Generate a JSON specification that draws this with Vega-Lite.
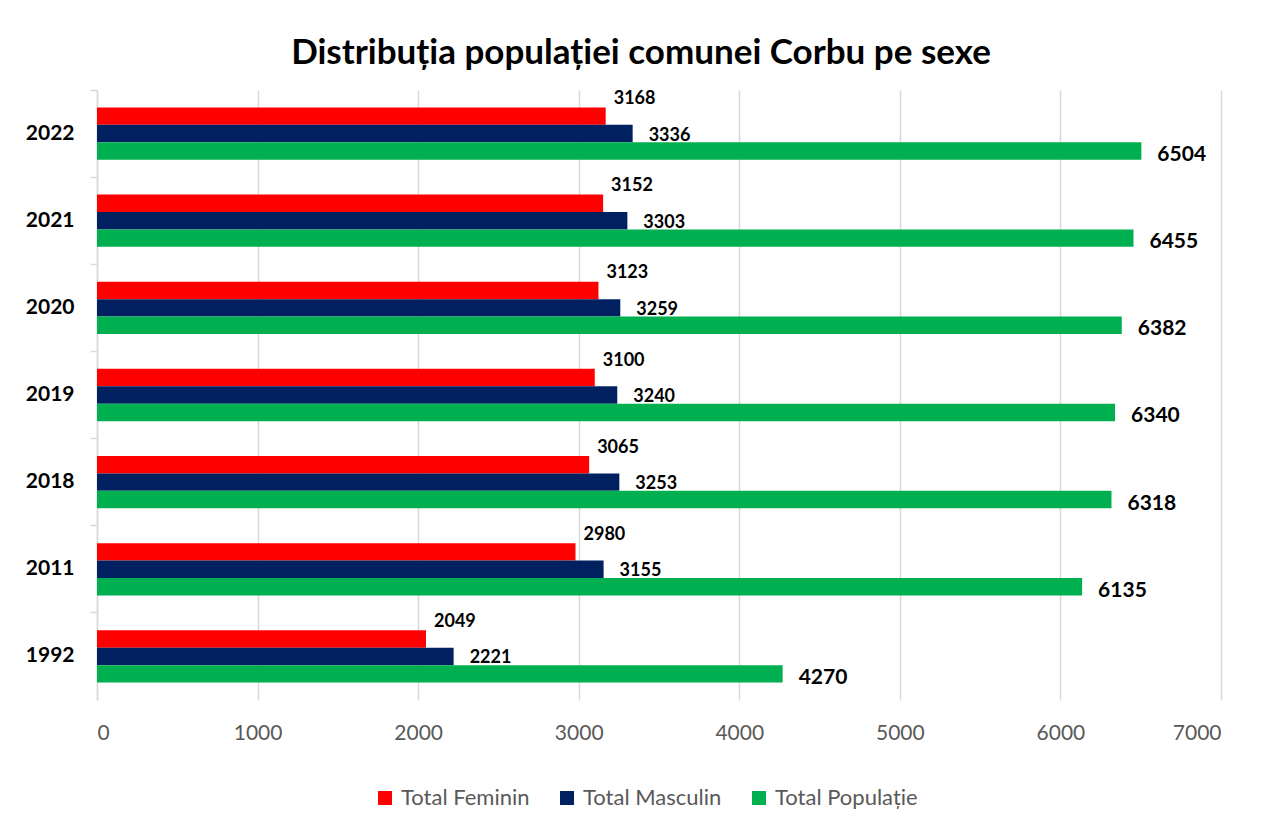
{
  "$schema": "https://vega.github.io/schema/vega-lite/v6.json",
  "width": 1124,
  "height": 610,
  "autosize": {"type": "none"},
  "padding": {"left": 97, "top": 90, "right": 46, "bottom": 129},
  "background": "white",
  "title": {
    "text": "Distribuția populației comunei Corbu pe sexe",
    "font": "Lato",
    "fontSize": 35,
    "fontWeight": "bold",
    "color": "#000000",
    "anchor": "middle",
    "dx": -18,
    "offset": 18
  },
  "data": {
    "values": [
      {"year": "2022", "series": "Total Feminin", "value": 3168},
      {"year": "2022", "series": "Total Masculin", "value": 3336},
      {"year": "2022", "series": "Total Populație", "value": 6504},
      {"year": "2021", "series": "Total Feminin", "value": 3152},
      {"year": "2021", "series": "Total Masculin", "value": 3303},
      {"year": "2021", "series": "Total Populație", "value": 6455},
      {"year": "2020", "series": "Total Feminin", "value": 3123},
      {"year": "2020", "series": "Total Masculin", "value": 3259},
      {"year": "2020", "series": "Total Populație", "value": 6382},
      {"year": "2019", "series": "Total Feminin", "value": 3100},
      {"year": "2019", "series": "Total Masculin", "value": 3240},
      {"year": "2019", "series": "Total Populație", "value": 6340},
      {"year": "2018", "series": "Total Feminin", "value": 3065},
      {"year": "2018", "series": "Total Masculin", "value": 3253},
      {"year": "2018", "series": "Total Populație", "value": 6318},
      {"year": "2011", "series": "Total Feminin", "value": 2980},
      {"year": "2011", "series": "Total Masculin", "value": 3155},
      {"year": "2011", "series": "Total Populație", "value": 6135},
      {"year": "1992", "series": "Total Feminin", "value": 2049},
      {"year": "1992", "series": "Total Masculin", "value": 2221},
      {"year": "1992", "series": "Total Populație", "value": 4270}
    ]
  },
  "encoding": {
    "y": {
      "field": "year",
      "type": "nominal",
      "sort": "descending",
      "title": null,
      "scale": {"paddingInner": 0, "paddingOuter": 0},
      "axis": {
        "bandPosition": 0,
        "domainColor": "#d9d9d9",
        "domainWidth": 1.5,
        "tickColor": "#d9d9d9",
        "tickWidth": 1.5,
        "tickSize": 7,
        "labelFont": "Lato",
        "labelFontSize": 21,
        "labelFontWeight": "bold",
        "labelColor": "#000000",
        "labelPadding": 16,
        "grid": false
      }
    },
    "yOffset": {
      "field": "series",
      "type": "nominal",
      "sort": ["Total Feminin", "Total Masculin", "Total Populație"],
      "scale": {"paddingInner": 0, "paddingOuter": 1.06}
    },
    "x": {
      "field": "value",
      "type": "quantitative",
      "title": null,
      "scale": {"domain": [0, 7000], "nice": false},
      "axis": {
        "values": [0, 1000, 2000, 3000, 4000, 5000, 6000, 7000],
        "format": "d",
        "domain": false,
        "ticks": false,
        "grid": true,
        "gridColor": "#d9d9d9",
        "gridWidth": 1.5,
        "labelFont": "Lato",
        "labelFontSize": 21,
        "labelColor": "#595959",
        "labelPadding": 22
      }
    }
  },
  "layer": [
    {
      "mark": {"type": "bar"},
      "encoding": {
        "color": {
          "field": "series",
          "type": "nominal",
          "sort": ["Total Feminin", "Total Masculin", "Total Populație"],
          "scale": {
            "domain": ["Total Feminin", "Total Masculin", "Total Populație"],
            "range": ["#FF0000", "#002060", "#00B050"]
          },
          "legend": {
            "orient": "none",
            "legendX": 277,
            "legendY": 697,
            "direction": "horizontal",
            "title": null,
            "symbolType": "square",
            "symbolSize": 196,
            "symbolStrokeWidth": 0,
            "labelFont": "Lato",
            "labelFontSize": 22,
            "labelColor": "#595959",
            "labelOffset": 5,
            "columnPadding": 26
          }
        }
      }
    },
    {
      "transform": [{"filter": "datum.series === 'Total Feminin'"}],
      "mark": {"type": "text", "align": "left", "baseline": "middle", "dx": 8, "dy": -17, "font": "Lato", "fontSize": 18, "fontWeight": "bold", "color": "#000000"},
      "encoding": {"text": {"field": "value", "type": "quantitative", "format": "d"}}
    },
    {
      "transform": [{"filter": "datum.series === 'Total Masculin'"}],
      "mark": {"type": "text", "align": "left", "baseline": "middle", "dx": 16, "dy": 2, "font": "Lato", "fontSize": 18, "fontWeight": "bold", "color": "#000000"},
      "encoding": {"text": {"field": "value", "type": "quantitative", "format": "d"}}
    },
    {
      "transform": [{"filter": "datum.series === 'Total Populație'"}],
      "mark": {"type": "text", "align": "left", "baseline": "middle", "dx": 16, "dy": 4, "font": "Lato", "fontSize": 21, "fontWeight": "bold", "color": "#000000"},
      "encoding": {"text": {"field": "value", "type": "quantitative", "format": "d"}}
    }
  ],
  "config": {"view": {"stroke": null}}
}
